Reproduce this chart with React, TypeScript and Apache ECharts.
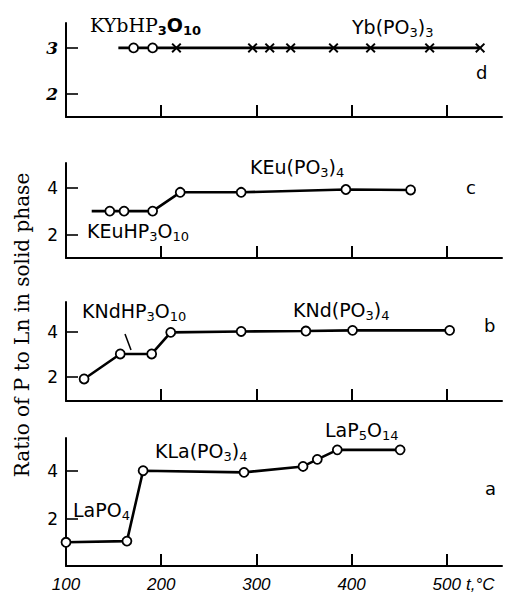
import React, { useEffect, useRef } from "react";
import * as echarts from "echarts";

// ---- data (temperature °C, ratio P:Ln) ----
const xTickValues = [200, 300, 400, 500];
const xLabelValues = [100, 200, 300, 400, 500];

const tempA = [100, 164, 181, 287, 349, 364, 385, 451];
const ratioA = [1.0, 1.05, 4.02, 3.95, 4.2, 4.5, 4.9, 4.9];

const tempB = [119, 157, 190, 210, 284, 352, 401, 503];
const ratioB = [1.91, 3.02, 3.02, 3.98, 4.02, 4.04, 4.07, 4.07];

const tempC = [127, 146, 161, 191, 220, 284, 394, 462];
const ratioC = [3, 3, 3, 3, 3.8, 3.8, 3.92, 3.9];
const markerC = ["none", "circle", "circle", "circle", "circle", "circle", "circle", "circle"];

const tempD = [155, 171, 191, 216, 296, 314, 336, 381, 420, 482, 535];
const ratioD = [3, 3, 3, 3, 3, 3, 3, 3, 3, 3, 3];
const markerD = ["none", "circle", "circle", "cross", "cross", "cross", "cross", "cross", "cross", "cross", "cross"];

const panelLetters = ["d", "c", "b", "a"];

const CROSS =
  "path://M0,1.4 L1.4,0 L5,3.6 L8.6,0 L10,1.4 L6.4,5 L10,8.6 L8.6,10 L5,6.4 L1.4,10 L0,8.6 L3.6,5 Z";

const FORMULA_FONT = "DejaVu Sans";

export default function App() {
  const ref = useRef<HTMLDivElement>(null);

  useEffect(() => {
    if (!ref.current) return;
    const chart = echarts.init(ref.current, undefined, { renderer: "svg" });

    // grids: d, c, b, a (top to bottom)
    const grids = [
      { left: 66, right: 5, top: 23, height: 94 },
      { left: 66, right: 5, top: 163, height: 95 },
      { left: 66, right: 5, top: 302, height: 99 },
      { left: 66, right: 5, top: 438, height: 128 },
    ];
    const yRanges = [
      { min: 1.5, max: 3.54, ticks: [2, 3] },
      { min: 1, max: 5.05, ticks: [2, 4] },
      { min: 0.93, max: 5.33, ticks: [2, 4] },
      { min: 0, max: 5.4, ticks: [2, 4] },
    ];

    const xAxes = grids.map((_, i) => ({
      type: "value",
      gridIndex: i,
      min: 100,
      max: 558,
      splitLine: { show: false },
      axisLine: { show: true, lineStyle: { color: "#000", width: 2 } },
      axisTick: {
        show: true,
        inside: true,
        length: 12,
        customValues: xTickValues,
        lineStyle: { color: "#000", width: 2 },
      },
      axisLabel: {
        show: i === 3,
        customValues: xLabelValues,
        margin: 10,
        fontFamily: "Liberation Sans",
        fontStyle: "italic",
        fontSize: 17,
        color: "#000",
      },
    }));

    const yAxes = yRanges.map((r, i) => ({
      type: "value",
      gridIndex: i,
      min: r.min,
      max: r.max,
      splitLine: { show: false },
      axisLine: { show: true, lineStyle: { color: "#000", width: 2 } },
      axisTick: {
        show: true,
        inside: true,
        length: 12,
        customValues: r.ticks,
        lineStyle: { color: "#000", width: 1.6 },
      },
      axisLabel: {
        customValues: r.ticks,
        margin: 8,
        fontFamily: i === 0 ? "DejaVu Serif" : "DejaVu Sans",
        fontStyle: i === 0 ? "italic" : "normal",
        fontWeight: i === 0 ? "bold" : "normal",
        fontSize: 17,
        color: "#000",
      },
    }));

    const circleStyle = { color: "#fff", borderColor: "#000", borderWidth: 1.8 };
    const crossStyle = { color: "#000", borderWidth: 0 };

    const mk = (xs: number[], ys: number[], markers: string[] | null, idx: number) => ({
      type: "line",
      xAxisIndex: idx,
      yAxisIndex: idx,
      symbol: "circle",
      symbolSize: 9,
      showSymbol: true,
      z: 3,
      lineStyle: { color: "#000", width: 2.6 },
      itemStyle: circleStyle,
      data: xs.map((x, k) => {
        const m = markers ? markers[k] : "circle";
        if (m === "none") return { value: [x, ys[k]], symbol: "none" };
        if (m === "cross")
          return { value: [x, ys[k]], symbol: CROSS, symbolSize: 10, itemStyle: crossStyle };
        return { value: [x, ys[k]] };
      }),
    });

    const series = [
      mk(tempD, ratioD, markerD, 0),
      mk(tempC, ratioC, markerC, 1),
      mk(tempB, ratioB, null, 2),
      mk(tempA, ratioA, null, 3),
    ];

    const rich = {
      n: { fontFamily: FORMULA_FONT, fontWeight: "normal", fontSize: 19, color: "#000", lineHeight: 25 },
      s: { fontFamily: FORMULA_FONT, fontWeight: "normal", fontSize: 13, color: "#000", verticalAlign: "bottom", lineHeight: 12 },
      sn: { fontFamily: "DejaVu Serif", fontWeight: "normal", fontSize: 19, color: "#000", lineHeight: 25 },
      sb: { fontFamily: "DejaVu Sans", fontWeight: "bold", fontSize: 13, color: "#000", verticalAlign: "bottom", lineHeight: 12 },
      sbo: { fontFamily: "DejaVu Sans", fontWeight: "bold", fontSize: 19, color: "#000", lineHeight: 25 },
    };

    const formulas = [
      { text: "{sn|KYbHP}{sb|3}{sbo|O}{sb|10}", left: 90, top: 12 },
      { text: "{n|Yb(PO}{s|3}{n|)}{s|3}", left: 352, top: 14 },
      { text: "{n|KEu(PO}{s|3}{n|)}{s|4}", left: 250, top: 154 },
      { text: "{n|KEuHP}{s|3}{n|O}{s|10}", left: 87, top: 218 },
      { text: "{n|KNdHP}{s|3}{n|O}{s|10}", left: 82, top: 298 },
      { text: "{n|KNd(PO}{s|3}{n|)}{s|4}", left: 293, top: 297 },
      { text: "{n|LaPO}{s|4}", left: 73, top: 497 },
      { text: "{n|KLa(PO}{s|3}{n|)}{s|4}", left: 155, top: 438 },
      { text: "{n|LaP}{s|5}{n|O}{s|14}", left: 325, top: 417 },
    ];
    const letterPos = [
      { left: 476, top: 63 },
      { left: 466, top: 178 },
      { left: 484, top: 316 },
      { left: 485, top: 479 },
    ];

    const titles = [
      ...formulas.map((f) => ({
        text: f.text,
        left: f.left,
        top: f.top,
        padding: 0,
        textStyle: { rich, fontWeight: "normal" },
      })),
      ...panelLetters.map((l, i) => ({
        text: l,
        left: letterPos[i].left,
        top: letterPos[i].top,
        padding: 0,
        textStyle: { fontFamily: "DejaVu Sans", fontSize: 18, fontWeight: "normal", color: "#000" },
      })),
    ];

    chart.setOption({
      animation: false,
      backgroundColor: "#fff",
      title: titles,
      grid: grids,
      xAxis: xAxes,
      yAxis: yAxes,
      series,
      graphic: [
        {
          type: "text",
          x: 22,
          y: 325,
          rotation: Math.PI / 2,
          style: {
            text: "Ratio of P to Ln in solid phase",
            fontFamily: "DejaVu Serif",
            fontSize: 20,
            fill: "#000",
            textAlign: "center",
            textVerticalAlign: "middle",
          },
        },
        {
          type: "text",
          x: 466,
          y: 584,
          style: {
            text: "t,°C",
            fontFamily: "Liberation Sans",
            fontStyle: "italic",
            fontSize: 17,
            fill: "#000",
            textAlign: "left",
            textVerticalAlign: "middle",
          },
        },
        {
          type: "line",
          shape: { x1: 125, y1: 334, x2: 131, y2: 350 },
          style: { stroke: "#000", lineWidth: 1.5 },
        },
      ],
    });

    return () => chart.dispose();
  }, []);

  return (
    <div
      ref={ref}
      style={{ position: "fixed", left: 0, top: 0, width: 507, height: 594, background: "#fff" }}
    />
  );
}
